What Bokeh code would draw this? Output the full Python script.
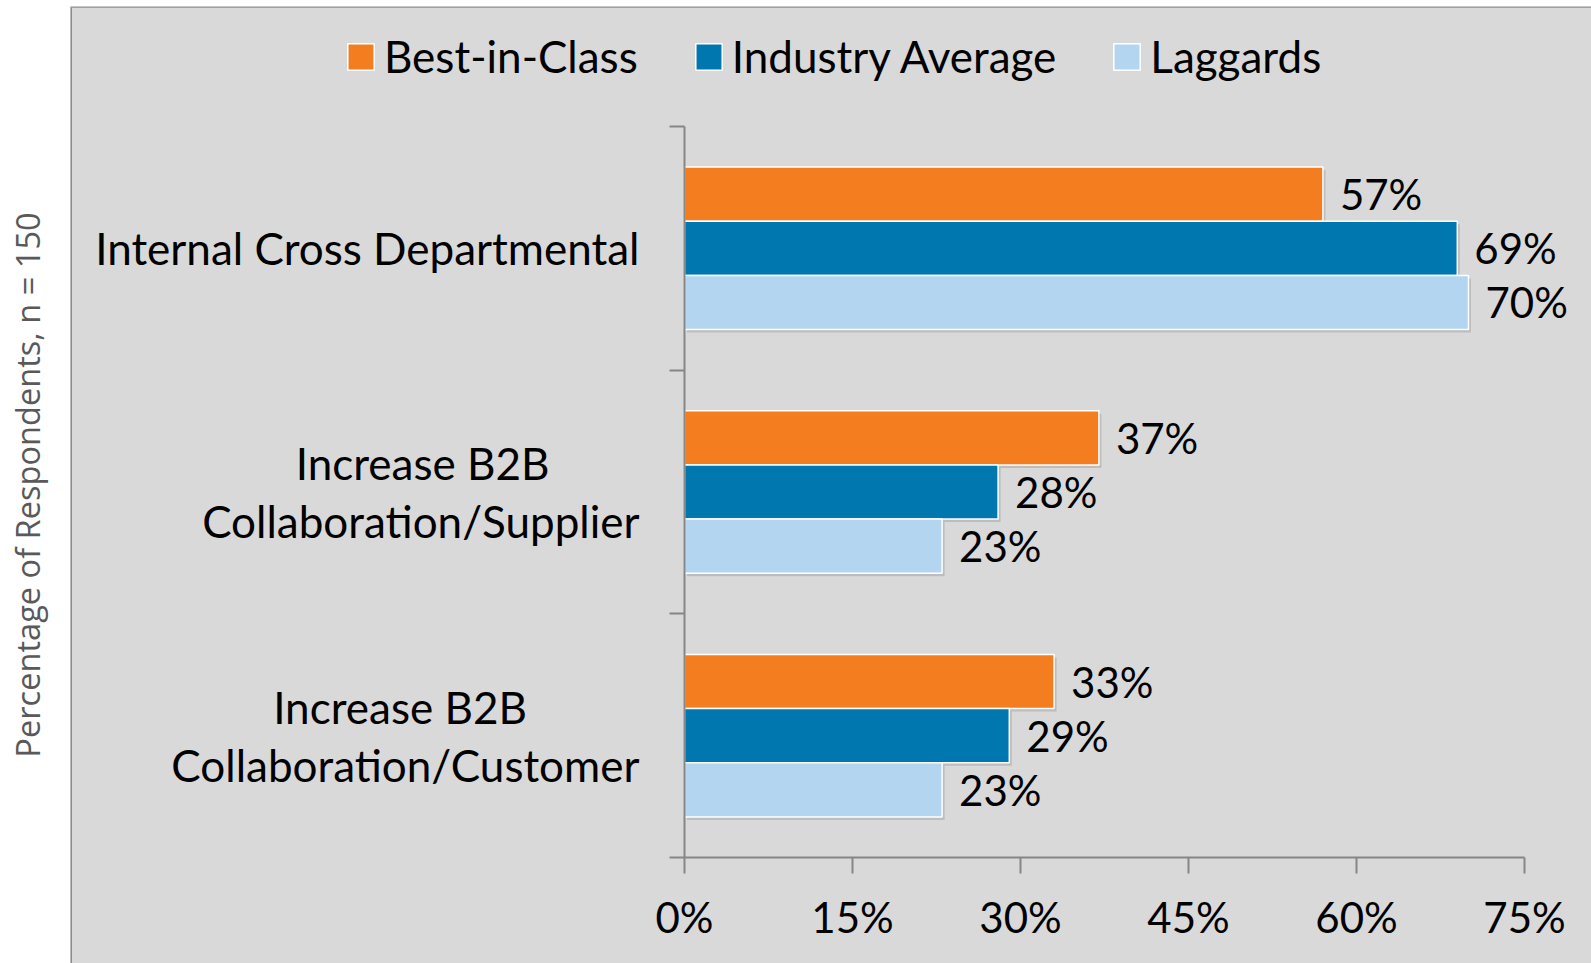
from bokeh.plotting import figure
from bokeh.models import ColumnDataSource, FixedTicker, Legend, LegendItem, Span, LinearAxis
from bokeh.embed import file_html
from bokeh.resources import INLINE
from bokeh.core.properties import value

# ---- data ----
NB = "\u00a0"
categories = ["Internal Cross Departmental",
              "Increase B2B" + NB * 8 + "\nCollaboration/Supplier",
              "Increase B2B" + NB * 10 + "\nCollaboration/Customer"]
series = ["Best-in-Class", "Industry Average", "Laggards"]
best_in_class = [57, 37, 33]
industry_average = [69, 28, 29]
laggards = [70, 23, 23]
x_ticks = [0, 15, 30, 45, 60, 75]
x_tick_labels = ["0%", "15%", "30%", "45%", "60%", "75%"]
y_title = "Percentage of Respondents, n = 150"

# ---- style / geometry (pixels) ----
colors = ["#F47D20", "#0077AF", "#B4D5F0"]
bg = "#D9D9D9"
axis_col = "#868686"
FONT = "Lato"
FS_TXT = "44px"
FS_NUM = "42px"

W, H = 1591, 963
FRAME_LEFT, FRAME_TOP = 70, 6
X0_PX, X75_PX = 684, 1524          # page x of 0% and 75%
Y0_PX, Y3_PX = 857, 126            # page y of axis bottom and top
xu = (X75_PX - X0_PX) / 75.0
yu = (Y0_PX - Y3_PX) / 3.0
x_start = -(X0_PX - FRAME_LEFT) / xu
x_end = (W - X0_PX) / xu
y_start = -(H - Y0_PX) / yu
y_end = 3 + (Y3_PX - FRAME_TOP) / yu

n_cat = len(categories)
centers = [n_cat - 0.5 - i for i in range(n_cat)]
bar_h = 1 / 4.5
offsets = [bar_h, 0.0, -bar_h]

p = figure(width=W, height=H, x_range=(x_start, x_end), y_range=(y_start, y_end),
           output_backend="svg", toolbar_location=None, tools="",
           x_axis_location=None, y_axis_location=None,
           min_border_left=FRAME_LEFT, min_border_right=0, min_border_top=FRAME_TOP,
           min_border_bottom=0)
p.background_fill_color = bg
p.border_fill_color = "white"
p.outline_line_color = None
p.xgrid.visible = False
p.ygrid.visible = False

# frame edge lines (left and top)
p.add_layout(Span(location=x_start, dimension="height", line_color="#8C8C8C", line_width=3))
p.add_layout(Span(location=y_end, dimension="width", line_color="#A0A0A0", line_width=3))

# x axis at y = 0
xa = LinearAxis(bounds=(0, 75), fixed_location=0,
                ticker=FixedTicker(ticks=x_ticks, minor_ticks=[]))
xa.major_label_overrides = {t: l for t, l in zip(x_ticks, x_tick_labels)}
xa.major_tick_out = 16
xa.major_tick_in = 0
xa.minor_tick_out = 0
xa.axis_line_color = axis_col
xa.axis_line_width = 2
xa.major_tick_line_color = axis_col
xa.major_tick_line_width = 2
xa.major_label_text_font = FONT
xa.major_label_text_font_size = FS_NUM
xa.major_label_text_color = "black"
xa.major_label_standoff = 18
p.add_layout(xa, "below")

# category axis at x = 0
ya = LinearAxis(bounds=(0, n_cat), fixed_location=0,
                ticker=FixedTicker(ticks=centers, minor_ticks=list(range(n_cat + 1))))
ya.major_label_overrides = {c: l for c, l in zip(centers, categories)}
ya.major_tick_out = 0
ya.major_tick_in = 0
ya.minor_tick_out = 15
ya.minor_tick_in = 0
ya.axis_line_color = axis_col
ya.axis_line_width = 2
ya.minor_tick_line_color = axis_col
ya.minor_tick_line_width = 2
ya.major_label_text_font = FONT
ya.major_label_text_font_size = FS_TXT
ya.major_label_text_line_height = 1.12
ya.major_label_text_color = "black"
ya.major_label_standoff = 30
p.add_layout(ya, "left")

# title-only axis in the white strip
ta = LinearAxis(ticker=FixedTicker(ticks=[], minor_ticks=[]))
ta.axis_line_color = None
ta.major_tick_out = 0
ta.major_tick_in = 0
ta.minor_tick_out = 0
ta.minor_tick_in = 0
ta.axis_label = y_title
ta.axis_label_text_font = "Open Sans"
ta.axis_label_text_font_size = "32.6px"
ta.axis_label_text_font_style = "normal"
ta.axis_label_text_color = "#595959"
ta.axis_label_standoff = 21
p.add_layout(ta, "left")

shadow_dx = 2.5 / xu
shadow_dy = 3.0 / yu

items = []
for k, (name, vals) in enumerate(zip(series, [best_in_class, industry_average, laggards])):
    ys = [c + offsets[k] for c in centers]
    src = ColumnDataSource(dict(y=ys, v=vals, lab=[f"{v}%" for v in vals],
                                ys=[y - shadow_dy for y in ys],
                                vs=[v + shadow_dx for v in vals]))
    # soft drop shadow
    p.hbar(y="ys", left=shadow_dx, right="vs", height=bar_h, source=src,
           fill_color="#000000", fill_alpha=0.13, line_color=None)
    r = p.hbar(y="y", left=0, right="v", height=bar_h, source=src,
               fill_color=colors[k], line_color="white", line_width=1.5)
    p.text(x="v", y="y", text="lab", source=src, x_offset=17,
           text_baseline="middle", text_align="left",
           text_font=value(FONT), text_font_size=FS_NUM, text_color="black")
    items.append(LegendItem(label=name, renderers=[r]))

legend = Legend(items=items, orientation="horizontal",
                location=(344 - FRAME_LEFT, H - 82))
legend.glyph_width = 33
legend.glyph_height = 33
legend.label_standoff = 7
legend.spacing = 54
legend.padding = 0
legend.margin = 0
legend.border_line_color = None
legend.background_fill_alpha = 0
legend.label_text_font = FONT
legend.label_text_font_size = FS_TXT
legend.label_text_color = "black"
p.add_layout(legend, "center")

open("out.html", "w").write(file_html(p, INLINE))
